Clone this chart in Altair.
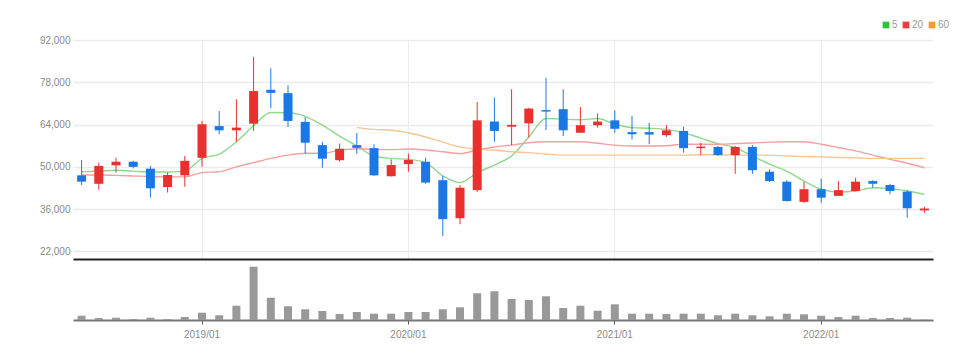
import altair as alt
import pandas as pd

months = [
    "2018/06", "2018/07", "2018/08", "2018/09", "2018/10", "2018/11", "2018/12",
    "2019/01", "2019/02", "2019/03", "2019/04", "2019/05", "2019/06", "2019/07",
    "2019/08", "2019/09", "2019/10", "2019/11", "2019/12",
    "2020/01", "2020/02", "2020/03", "2020/04", "2020/05", "2020/06", "2020/07",
    "2020/08", "2020/09", "2020/10", "2020/11", "2020/12",
    "2021/01", "2021/02", "2021/03", "2021/04", "2021/05", "2021/06", "2021/07",
    "2021/08", "2021/09", "2021/10", "2021/11", "2021/12",
    "2022/01", "2022/02", "2022/03", "2022/04", "2022/05", "2022/06", "2022/07",
]
opens = [47200, 44400, 50500, 51700, 49400, 43300, 47200, 53000, 63500, 62100,
         64300, 75500, 74400, 64900, 57200, 52200, 57200, 56200, 46900, 50900,
         51700, 45600, 33000, 42300, 65000, 63300, 64400, 68800, 69100, 61300,
         63800, 65400, 61500, 61500, 60500, 61900, 56200, 56600, 53900, 56600,
         48400, 45100, 38400, 42600, 40400, 42000, 45300, 44000, 41800, 35600]
highs = [52300, 51400, 53000, 52000, 50300, 48100, 53600, 65200, 68500, 72400,
         86400, 82600, 77000, 66500, 58300, 57700, 61200, 57500, 52500, 54400,
         53000, 47000, 44000, 71500, 72900, 75700, 69600, 79500, 75700, 69800,
         67700, 68700, 66800, 64600, 63800, 63300, 58000, 56900, 56900, 57200,
         49200, 45600, 45100, 46100, 45300, 46400, 45600, 44400, 42300, 36800]
lows = [44000, 42400, 48100, 49500, 39800, 41500, 43400, 50000, 60800, 58300,
        61900, 69400, 63200, 54400, 49700, 51700, 54300, 47000, 46800, 48400,
        44400, 27100, 31000, 41700, 58300, 57200, 59700, 62200, 60200, 61300,
        63000, 61300, 59100, 57500, 59900, 54700, 53900, 53600, 47700, 47700,
        45000, 38500, 38100, 38100, 40300, 41900, 43100, 40900, 33200, 34800]
closes = [45100, 50300, 51700, 50000, 42900, 47300, 52000, 64100, 62100, 63000,
          75100, 74500, 65200, 58000, 52700, 56000, 56300, 47200, 50600, 52300,
          44800, 32700, 43100, 65400, 61900, 63900, 69300, 68300, 62100, 63800,
          65000, 62600, 60800, 60700, 62100, 56200, 56700, 53900, 56600, 48900,
          45300, 38700, 42600, 39800, 42300, 45100, 44400, 42000, 36300, 36200]
ma5 = [48400, 48600, 48900, 48600, 48300, 48300, 48600, 52800, 54200, 58300,
       63600, 68000, 67900, 66700, 63800, 60200, 56900, 53600, 52800, 52500,
       51400, 47000, 44800, 48100, 50600, 53600, 59900, 66000, 65800, 65600,
       66000, 64100, 63000, 62800, 62400, 61300, 59500, 57700, 56400, 53600,
       50900, 48600, 45300, 42600, 41700, 42000, 43100, 42800, 42000, 40900]
ma20 = [47300, 47300, 47200, 47000, 46800, 46700, 46700, 48100, 48400, 50000,
        51400, 52800, 53900, 54500, 54500, 55500, 56000, 55800, 55700, 55900,
        55600, 55000, 54400, 55600, 56600, 57200, 58000, 58300, 58300, 58300,
        57800, 57200, 56900, 56900, 57000, 57500, 57500, 57500, 57700, 57900,
        58200, 58300, 58300, 57500, 56400, 55300, 53900, 52500, 51200, 49700]
ma60 = [None] * 16 + [
        63000, 62400, 62100, 61300, 59900, 58200, 56600, 55800, 55500, 55000,
        54700, 54200, 53900, 53900, 53900, 53900, 53900, 53900, 53900, 53900,
        54000, 54000, 53900, 53900, 53900, 53600, 53400, 53300, 53100, 53000,
        52800, 52800, 52800, 52800]
volumes = [430, 200, 230, 100, 230, 100, 300, 730, 470, 1430,
           5330, 2230, 1370, 1070, 900, 600, 800, 630, 630, 800,
           800, 1070, 1270, 2670, 2870, 2100, 2000, 2370, 1200, 1430,
           930, 1570, 630, 630, 600, 630, 630, 470, 630, 470,
           370, 630, 570, 430, 300, 430, 200, 200, 230, 40]

ma_names = ["5", "20", "60"]
ma_light = ["#8cd98c", "#f5a0a0", "#f6c592"]
ma_strong = ["#2cc23a", "#ee3b3b", "#f39c2b"]
year_ticks = ["2019/01", "2020/01", "2021/01", "2022/01"]

df = pd.DataFrame({"month": months, "open": opens, "high": highs, "low": lows,
                   "close": closes, "volume": volumes})
df["dir"] = ["up" if c >= o else "down" for o, c in zip(opens, closes)]

rows = []
for name, series in zip(ma_names, [ma5, ma20, ma60]):
    for m, v in zip(months, series):
        if v is not None:
            rows.append({"month": m, "ma": name, "value": v})
ma_df = pd.DataFrame(rows)

FONT = "Liberation Sans Narrow, Liberation Sans, sans-serif"
xscale = alt.Scale(type="band", domain=months, paddingInner=0, paddingOuter=0)

price_xaxis = alt.Axis(values=year_ticks, labels=False, ticks=False, domain=True,
                       domainColor="#222222", domainWidth=2, grid=True,
                       gridColor="#ececec", gridWidth=1, title=None,
                       bandPosition=0.5, minExtent=0, maxExtent=1)
yscale = alt.Scale(domain=[19500, 92000], nice=False, zero=False)
price_yaxis = alt.Axis(values=[22000, 36000, 50000, 64000, 78000, 92000],
                       format=",d", labelColor="#8a8a8a", labelFontSize=10,
                       labelFont=FONT, ticks=False, domain=False,
                       gridColor="#ebebeb", gridWidth=1.5, labelPadding=3,
                       minExtent=60, maxExtent=60, title=None)


def xc(center=True, axis=price_xaxis):
    if center:
        return alt.X("month:O", scale=xscale, axis=axis, bandPosition=0.5)
    return alt.X("month:O", scale=xscale, axis=axis)


cand_color = alt.Color("dir:N", scale=alt.Scale(domain=["up", "down"],
                                                range=["#e8312f", "#1a78e6"]),
                       legend=None)

base = alt.Chart(df)

lines = alt.Chart(ma_df).mark_line(strokeWidth=1.4, interpolate="monotone").encode(
    x=xc(),
    y=alt.Y("value:Q", scale=yscale, axis=price_yaxis),
    stroke=alt.Stroke("ma:N", scale=alt.Scale(domain=ma_names, range=ma_light),
                      legend=None),
    detail="ma:N",
)

legend_layer = alt.Chart(ma_df).mark_square(opacity=0.001, size=30).encode(
    x=xc(),
    y=alt.Y("value:Q", scale=yscale, axis=price_yaxis),
    fill=alt.Fill("ma:N", scale=alt.Scale(domain=ma_names, range=ma_strong),
                  legend=alt.Legend(orient="none", legendX=808, legendY=-20,
                                    direction="horizontal", title=None,
                                    symbolType="square", symbolSize=45,
                                    symbolOpacity=1, symbolStrokeWidth=0,
                                    labelFontSize=10, labelColor="#9a9a9a",
                                    labelFont=FONT, columnPadding=3,
                                    labelOffset=1)),
)

wicks = base.mark_rule(strokeWidth=1).encode(
    x=xc(),
    y=alt.Y("low:Q", scale=yscale, axis=price_yaxis),
    y2="high:Q",
    color=cand_color,
)

bodies = base.mark_bar(size=9).encode(
    x=xc(center=False),
    y=alt.Y("open:Q", scale=yscale, axis=price_yaxis),
    y2="close:Q",
    color=cand_color,
)

price = alt.layer(lines, legend_layer, wicks, bodies).properties(
    width=860, height=219
).resolve_legend(fill="independent")

vol_xaxis = alt.Axis(values=year_ticks, labels=True, ticks=True, tickSize=4,
                     tickColor="#555555", domain=True, domainColor="#777777",
                     domainWidth=2, grid=False, labelColor="#8a8a8a",
                     labelFontSize=10, labelFont=FONT, labelPadding=5,
                     labelAngle=0, title=None, bandPosition=0.5)

volume = alt.Chart(df).mark_bar(size=8, color="#999999").encode(
    x=xc(center=False, axis=vol_xaxis),
    y=alt.Y("volume:Q", scale=alt.Scale(domain=[0, 6100], nice=False),
            axis=alt.Axis(labels=False, ticks=False, domain=False, grid=False,
                          minExtent=60, maxExtent=60, title=None)),
).properties(width=860, height=61)

chart = alt.vconcat(price, volume, spacing=0).resolve_scale(
    color="independent"
).resolve_legend(fill="independent", color="independent", stroke="independent").properties(
    padding={"left": 5, "top": 12, "right": 5, "bottom": 5}
).configure_view(stroke=None)

chart.save("out.html", embed_options={"renderer": "svg", "actions": False})
